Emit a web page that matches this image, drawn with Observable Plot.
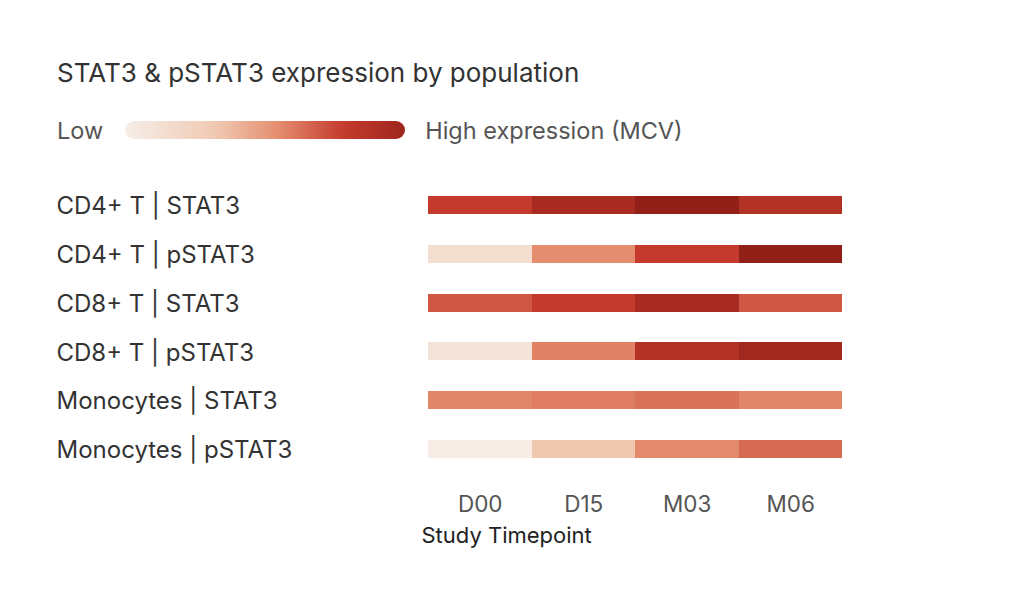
<!DOCTYPE html>
<html>
<head>
<meta charset="utf-8">
<script src="https://cdn.jsdelivr.net/npm/d3@7"></script>
<script src="https://cdn.jsdelivr.net/npm/@observablehq/plot@0.6"></script>
<style>
  html, body { margin: 0; padding: 0; background: #fff; }
  body { width: 1010px; height: 602px; position: relative; font-family: Inter, "Noto Sans", sans-serif; }
  #title { position: absolute; left: 57px; top: 58px; font-size: 26px; line-height: 30px; color: #333; white-space: nowrap; }
  #legend { position: absolute; left: 57px; top: 115px; height: 30px; display: flex; align-items: center; font-size: 23.5px; color: #555; white-space: nowrap; }
  #legend .ramp { width: 280px; height: 18px; border-radius: 9px; margin: 0 20px 0 22px; }
  #chart { position: absolute; left: 0; top: 160px; }
</style>
</head>
<body>
<div id="title">STAT3 &amp; pSTAT3 expression by population</div>
<div id="legend"><span>Low</span><div class="ramp"></div><span>High expression (MCV)</span></div>
<div id="chart"></div>
<script>
// Rows (population | marker) and study timepoints
const rows = [
  "CD4+ T | STAT3",
  "CD4+ T | pSTAT3",
  "CD8+ T | STAT3",
  "CD8+ T | pSTAT3",
  "Monocytes | STAT3",
  "Monocytes | pSTAT3"
];
const timepoints = ["D00", "D15", "M03", "M06"];

// Relative mean channel value (0 = low, 1 = high), one array per row, ordered by timepoint
const cd4Stat3   = [0.70, 0.85, 0.97, 0.79];
const cd4pStat3  = [0.13, 0.49, 0.70, 0.98];
const cd8Stat3   = [0.63, 0.70, 0.85, 0.63];
const cd8pStat3  = [0.09, 0.52, 0.79, 0.89];
const monoStat3  = [0.51, 0.53, 0.56, 0.51];
const monopStat3 = [0.02, 0.30, 0.50, 0.58];

const seriesByRow = [cd4Stat3, cd4pStat3, cd8Stat3, cd8pStat3, monoStat3, monopStat3];

// Expression colour ramp
const colorStops = [0, 0.3, 0.5, 0.7, 1];
const colorRange = ["#f6eee9", "#f0c8b0", "#e48a6c", "#c43b2d", "#8c1d16"];

const cells = rows.flatMap((row, i) =>
  timepoints.map((tp, j) => ({row, timepoint: tp, value: seriesByRow[i][j]}))
);

// Legend ramp sampled from the same colour scale
const colorScale = d3.scaleLinear().domain(colorStops).range(colorRange).interpolate(d3.interpolateRgb);
const rampStops = d3.range(0, 1.0001, 0.05).map(t => `${colorScale(t * 0.9)} ${t * 100}%`);
document.querySelector("#legend .ramp").style.background = `linear-gradient(to right, ${rampStops.join(", ")})`;

const chart = Plot.plot({
  width: 1010,
  height: 400,
  marginLeft: 428,
  marginRight: 168,
  marginTop: 5,
  marginBottom: 71,
  style: {fontFamily: "Inter, 'Noto Sans', sans-serif", background: "transparent"},
  x: {domain: timepoints, padding: 0, round: false},
  y: {domain: rows, padding: 0.633, round: false},
  color: {type: "linear", domain: colorStops, range: colorRange, interpolate: "rgb"},
  marks: [
    Plot.cell(cells, {x: "timepoint", y: "row", fill: "value", inset: 0, shapeRendering: "crispEdges"}),
    Plot.axisY({tickSize: 0, textAnchor: "start", dx: -363, dy: 1, fontSize: 24, fill: "#333", label: null}),
    Plot.axisX({tickSize: 0, tickPadding: 7, fontSize: 22.5, fill: "#555", label: null}),
    Plot.text(["Study Timepoint"], {frameAnchor: "bottom-left", textAnchor: "start", lineAnchor: "middle", dy: 46, dx: -7, fontSize: 22, fill: "#222"})
  ]
});
document.getElementById("chart").appendChild(chart);
</script>
</body>
</html>
